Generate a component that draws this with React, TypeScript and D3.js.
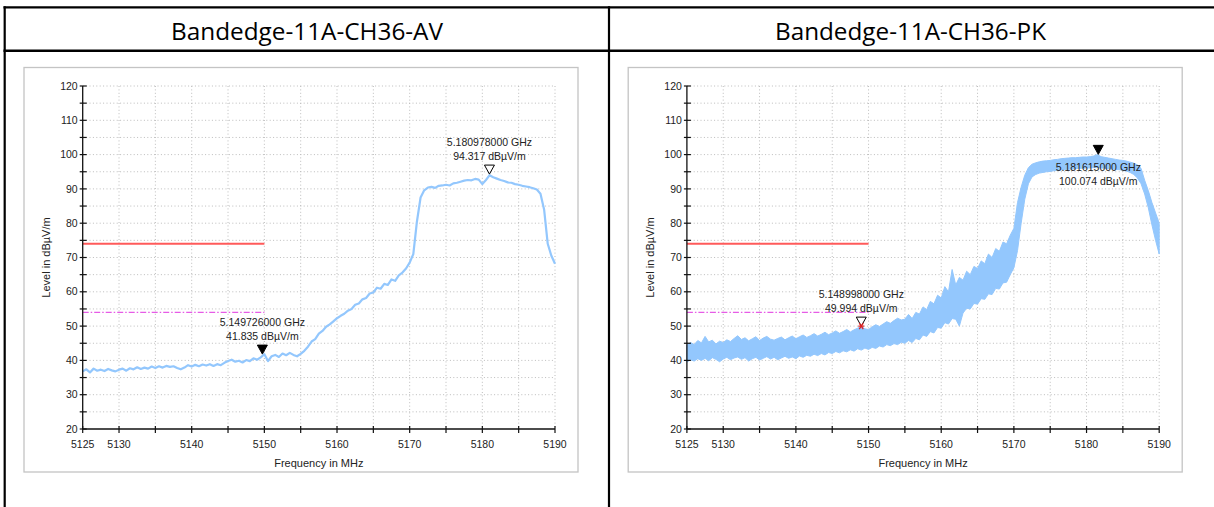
import React from "react";
import * as d3 from "d3";

// ---------- data ----------
const FREQ_START = 5125;
const FREQ_STEP = 0.5;

// AV trace (dBµV/m), 5125 … 5190 MHz every 0.5 MHz
const avLevels = [
  36.8, 37.4, 36.5, 37.6, 37.0, 37.3, 36.9, 37.5, 37.1, 36.8,
  37.3, 37.6, 37.0, 37.7, 37.4, 38.0, 37.5, 37.9, 37.6, 38.2,
  37.8, 38.3, 37.9, 38.4, 38.1, 38.3, 37.8, 37.4, 37.9, 38.6,
  38.2, 38.7, 38.3, 38.8, 38.5, 38.9, 38.4, 38.9, 38.6, 39.3,
  39.8, 40.2, 39.6, 39.9, 39.4, 40.1, 39.8, 40.6, 40.2, 40.9,
  41.8, 39.8, 41.2, 41.6, 41.0, 42.0, 41.5, 42.2, 41.6, 41.2,
  41.9, 42.8, 44.0, 45.5, 46.2, 47.8, 48.6, 49.8, 50.5, 51.4,
  52.3, 53.0, 53.6, 54.5, 55.0, 56.2, 56.6, 57.8, 58.2, 59.5,
  59.8, 61.2, 60.9, 62.3, 62.0, 63.6, 63.2, 64.8, 65.6, 66.8,
  68.5, 71.0, 80.5, 87.5, 89.6, 90.4, 90.6, 90.3, 90.9, 91.0,
  91.2, 91.0, 91.6, 91.8, 92.1, 92.4, 92.6, 92.5, 92.9, 92.7,
  91.4, 92.6, 94.0, 93.4, 93.0, 92.6, 92.3, 91.9, 91.8, 91.4,
  91.2, 90.9, 90.7, 90.5, 90.2, 89.8, 88.6, 84.0, 74.0, 70.5,
  68.2,
];

// PK trace envelope (min / max), 5125 … 5190 MHz every 0.5 MHz
const pkLow = [
  39.5, 40.2, 39.8, 40.5, 40.0, 40.6, 39.9, 40.8, 40.3, 39.6,
  40.4, 40.9, 40.2, 40.7, 41.0, 40.3, 40.8, 39.8, 40.5, 40.9,
  40.1, 40.6, 41.1, 40.4, 40.9, 40.2, 40.7, 41.2, 40.6, 41.0,
  40.5, 41.3, 40.9, 41.5, 41.2, 41.8, 41.4, 42.0, 41.6, 42.3,
  42.0, 42.6, 42.2, 42.8, 42.5, 43.1, 42.7, 43.4, 43.0, 43.6,
  43.2, 43.8, 43.5, 44.2, 43.9, 44.6, 44.3, 44.9, 44.6, 45.3,
  45.0, 45.8, 45.2, 46.4, 46.0, 47.4, 47.0, 48.4, 48.0, 49.6,
  49.4, 51.0, 50.6, 52.2, 52.0, 50.0, 53.8, 55.2, 55.0, 56.6,
  56.4, 58.0, 57.8, 59.4, 59.2, 61.0, 60.8, 62.6, 62.8, 65.0,
  67.0, 72.0, 80.0, 87.0, 91.5, 93.5, 94.2, 94.6, 94.8, 95.0,
  95.1, 95.3, 95.4, 95.5, 95.6, 95.7, 95.8, 95.9, 96.0, 96.0,
  96.1, 96.1, 96.2, 96.2, 96.1, 96.0, 95.9, 95.8, 95.7, 95.6,
  95.4, 95.2, 94.8, 94.2, 93.2, 91.5, 88.5, 84.5, 79.5, 75.0,
  71.0,
];
const pkHigh = [
  44.5, 45.2, 44.6, 45.8, 45.1, 47.0, 45.4, 45.9, 44.8, 45.6,
  45.2, 46.0, 45.5, 46.4, 47.2, 46.1, 46.6, 45.7, 46.3, 46.9,
  45.8, 46.5, 47.0, 46.2, 45.9, 46.4, 46.8, 46.0, 46.6, 47.1,
  46.3, 46.9, 47.4, 46.7, 47.2, 47.8, 47.1, 47.6, 48.2, 47.5,
  48.0, 48.6, 47.9, 48.4, 49.0, 48.3, 48.9, 49.4, 50.0, 49.2,
  49.0, 49.8, 50.4, 49.9, 50.6, 51.3, 50.8, 51.6, 52.3, 51.8,
  52.0, 53.4, 52.2, 54.0, 53.5, 55.6, 54.8, 57.2, 56.5, 59.0,
  58.2, 61.5, 60.0, 66.5, 62.0, 64.2, 63.4, 66.0, 65.0, 67.4,
  66.8, 69.0, 68.2, 71.0, 70.0, 72.6, 71.8, 74.5, 74.0, 76.5,
  78.5, 86.0, 90.5, 94.0, 96.2, 97.2, 97.6, 97.9, 98.1, 98.2,
  98.3, 98.5, 98.6, 98.8, 98.9, 99.0, 99.1, 99.1, 99.2, 99.3,
  99.3, 99.4, 99.6, 100.0, 99.4, 99.2, 99.0, 98.8, 98.6, 98.4,
  98.3, 98.1, 97.8, 97.5, 97.0, 96.0, 92.5, 89.5, 86.0, 83.0,
  80.0,
];

const titles = ["Bandedge-11A-CH36-AV", "Bandedge-11A-CH36-PK"];
const xDomain = [5125, 5190];
const yDomain = [20, 120];
const xLabelTicks = [5125, 5130, 5140, 5150, 5160, 5170, 5180, 5190];
const yLabelTicks = [20, 30, 40, 50, 60, 70, 80, 90, 100, 110, 120];
const minorStep = 5;

const limitLines = [
  { level: 74, from: 5125, to: 5150, kind: "limit" },
  { level: 54, from: 5125, to: 5150, kind: "avg" },
];

type Marker = { f: number; v: number; filled: boolean; below: boolean; star: boolean };
const avMarkers: Marker[] = [
  { f: 5149.726, v: 41.835, filled: true, below: false, star: false },
  { f: 5180.978, v: 94.317, filled: false, below: false, star: false },
];
const pkMarkers: Marker[] = [
  { f: 5148.998, v: 49.994, filled: false, below: false, star: true },
  { f: 5181.615, v: 100.074, filled: true, below: true, star: false },
];

// ---------- drawing ----------
const FONT = "'Liberation Sans', Arial, sans-serif";
const TRACE = "#93c7fd";

function Panel({ dx, kind, markers }: { dx: number; kind: "av" | "pk"; markers: Marker[] }) {
  const x = d3.scaleLinear().domain(xDomain).range([82.7 + dx, 555 + dx]);
  const y = d3.scaleLinear().domain(yDomain).range([429, 86]);
  const freqs = avLevels.map((_, i) => FREQ_START + i * FREQ_STEP);

  const xMinor = d3.range(xDomain[0], xDomain[1] + 0.01, minorStep);
  const yMinor = d3.range(yDomain[0], yDomain[1] + 0.01, minorStep);

  const line = d3
    .line<number>()
    .x((_, i) => x(freqs[i]))
    .y((d) => y(d));
  const area = d3
    .area<number>()
    .x((_, i) => x(freqs[i]))
    .y0((d) => y(d))
    .y1((_, i) => y(pkHigh[i]));

  const x0 = x(xDomain[0]);
  const x1 = x(xDomain[1]);
  const y0 = y(yDomain[0]);
  const y1 = y(yDomain[1]);

  return (
    <g>
      {/* frame */}
      <rect x={24 + dx} y={67.5} width={554} height={404.5} fill="#fff" stroke="#c4c4c4" strokeWidth={1.3} />
      {/* grid */}
      {xMinor.filter((f) => f > xDomain[0]).map((f) => (
        <line key={"gx" + f} x1={x(f)} x2={x(f)} y1={y1} y2={y0} stroke="#bcbcbc" strokeWidth={1} strokeDasharray="1,2.4" />
      ))}
      {yMinor.filter((v) => v > yDomain[0]).map((v) => (
        <line key={"gy" + v} x1={x0} x2={x1} y1={y(v)} y2={y(v)} stroke="#bcbcbc" strokeWidth={1} strokeDasharray="1,2.4" />
      ))}
      {/* limit lines */}
      {limitLines.map((l) =>
        l.kind === "limit" ? (
          <line key={"l" + l.level} x1={x(l.from)} x2={x(l.to)} y1={y(l.level)} y2={y(l.level)} stroke="#ff5a5a" strokeWidth={2} />
        ) : (
          <line key={"l" + l.level} x1={x(l.from)} x2={x(l.to)} y1={y(l.level)} y2={y(l.level)} stroke="#e65ce6" strokeWidth={1.2} strokeDasharray="6,2,1.5,2" />
        )
      )}
      {/* trace */}
      {kind === "av" ? (
        <path d={line(avLevels) || ""} fill="none" stroke={TRACE} strokeWidth={2.2} strokeLinejoin="round" />
      ) : (
        <path d={area(pkLow) || ""} fill={TRACE} stroke={TRACE} strokeWidth={1} />
      )}
      {/* axes */}
      <line x1={x0} x2={x0} y1={y1} y2={y0} stroke="#111" strokeWidth={1.3} />
      <line x1={x0} x2={x1} y1={y0} y2={y0} stroke="#111" strokeWidth={1.3} />
      {yMinor.map((v) => (
        <line key={"ty" + v} x1={x0 - 3} x2={x0 + 4} y1={y(v)} y2={y(v)} stroke="#111" strokeWidth={1.2} />
      ))}
      {xMinor.map((f) => (
        <line key={"tx" + f} x1={x(f)} x2={x(f)} y1={y0 - 3} y2={y0 + 4} stroke="#111" strokeWidth={1.2} />
      ))}
      {yLabelTicks.map((v) => (
        <text key={"ly" + v} x={x0 - 5} y={y(v)} dy="0.35em" textAnchor="end" fontSize={10.5} fontFamily={FONT} fill="#222">
          {v}
        </text>
      ))}
      {xLabelTicks.map((f) => (
        <text key={"lx" + f} x={x(f)} y={448} textAnchor="middle" fontSize={10.5} fontFamily={FONT} fill="#222">
          {f}
        </text>
      ))}
      <text x={(x0 + x1) / 2} y={467} textAnchor="middle" fontSize={11} fontFamily={FONT} fill="#222">
        Frequency in MHz
      </text>
      <text
        transform={`translate(${46 + dx},${(y0 + y1) / 2}) rotate(-90)`}
        dy="0.35em"
        textAnchor="middle"
        fontSize={11}
        fontFamily={FONT}
        fill="#222"
      >
        Level in dBµV/m
      </text>
      {/* markers */}
      {markers.map((m, i) => {
        const mx = x(m.f);
        const my = y(m.v);
        const tri = `M${mx - 5},${my - 9} L${mx + 5},${my - 9} L${mx},${my} Z`;
        const l1 = m.below ? my + 17 : my - 9 - 19;
        const l2 = l1 + 13.5;
        return (
          <g key={"m" + i}>
            <path d={tri} fill={m.filled ? "#000" : "none"} stroke="#000" strokeWidth={1} />
            {m.star && (
              <g stroke="#e02020" strokeWidth={1.2}>
                <line x1={mx - 3} x2={mx + 3} y1={my} y2={my} />
                <line x1={mx - 2} x2={mx + 2} y1={my - 3} y2={my + 3} />
                <line x1={mx + 2} x2={mx - 2} y1={my - 3} y2={my + 3} />
              </g>
            )}
            <text x={mx} y={l1} textAnchor="middle" fontSize={10.5} fontFamily={FONT} fill="#222">
              {(m.f / 1000).toFixed(9)} GHz
            </text>
            <text x={mx} y={l2} textAnchor="middle" fontSize={10.5} fontFamily={FONT} fill="#222">
              {m.v.toFixed(3)} dBµV/m
            </text>
          </g>
        );
      })}
    </g>
  );
}

export default function App() {
  return (
    <svg
      width={1214}
      height={507}
      style={{ position: "fixed", left: 0, top: 0, background: "#fff" }}
      xmlns="http://www.w3.org/2000/svg"
    >
      <rect x={0} y={0} width={1214} height={507} fill="#fff" />
      {/* table borders */}
      <line x1={3.5} x2={1214} y1={7.3} y2={7.3} stroke="#000" strokeWidth={2.2} />
      <line x1={3.5} x2={1214} y1={50.7} y2={50.7} stroke="#000" strokeWidth={2.4} />
      <line x1={4.7} x2={4.7} y1={6.2} y2={507} stroke="#000" strokeWidth={2.2} />
      <line x1={609} x2={609} y1={6.2} y2={507} stroke="#000" strokeWidth={2.2} />
      {/* titles */}
      <text x={307} y={39.5} textAnchor="middle" fontSize={23} fontFamily="'Open Sans', 'Noto Sans', sans-serif" fill="#000" textLength={272} lengthAdjust="spacingAndGlyphs">
        {titles[0]}
      </text>
      <text x={910.5} y={39.5} textAnchor="middle" fontSize={23} fontFamily="'Open Sans', 'Noto Sans', sans-serif" fill="#000" textLength={271} lengthAdjust="spacingAndGlyphs">
        {titles[1]}
      </text>
      <Panel dx={0} kind="av" markers={avMarkers} />
      <Panel dx={604.2} kind="pk" markers={pkMarkers} />
    </svg>
  );
}
